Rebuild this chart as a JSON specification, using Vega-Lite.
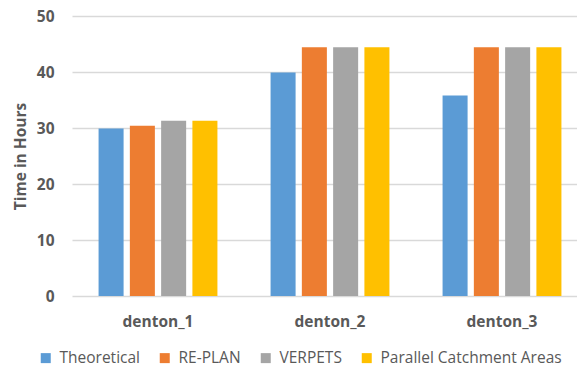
{
  "$schema": "https://vega.github.io/schema/vega-lite/v6.json",
  "autosize": "none",
  "width": 505,
  "height": 280,
  "padding": {"left": 72, "top": 16, "right": 0, "bottom": 72},
  "background": "white",
  "config": {
    "view": {"stroke": null},
    "font": "Open Sans",
    "axis": {"labelColor": "#595959", "titleColor": "#595959"}
  },
  "data": {
    "values": [
      {"dataset": "denton_1", "method": "Theoretical", "hours": 29.9},
      {"dataset": "denton_1", "method": "RE-PLAN", "hours": 30.4},
      {"dataset": "denton_1", "method": "VERPETS", "hours": 31.3},
      {"dataset": "denton_1", "method": "Parallel Catchment Areas", "hours": 31.3},
      {"dataset": "denton_2", "method": "Theoretical", "hours": 39.9},
      {"dataset": "denton_2", "method": "RE-PLAN", "hours": 44.4},
      {"dataset": "denton_2", "method": "VERPETS", "hours": 44.4},
      {"dataset": "denton_2", "method": "Parallel Catchment Areas", "hours": 44.4},
      {"dataset": "denton_3", "method": "Theoretical", "hours": 35.8},
      {"dataset": "denton_3", "method": "RE-PLAN", "hours": 44.4},
      {"dataset": "denton_3", "method": "VERPETS", "hours": 44.4},
      {"dataset": "denton_3", "method": "Parallel Catchment Areas", "hours": 44.4}
    ]
  },
  "mark": {"type": "bar"},
  "encoding": {
    "x": {
      "field": "dataset",
      "type": "nominal",
      "scale": {"range": [0, 516], "paddingInner": 0.309, "paddingOuter": 0.1545},
      "axis": {
        "title": null,
        "domain": false,
        "ticks": false,
        "labelAngle": 0,
        "labelFontSize": 15.5,
        "labelFontWeight": "bold",
        "labelPadding": 18
      }
    },
    "xOffset": {
      "field": "method",
      "type": "nominal",
      "sort": ["Theoretical", "RE-PLAN", "VERPETS", "Parallel Catchment Areas"],
      "scale": {"paddingInner": 0.2, "paddingOuter": 0}
    },
    "y": {
      "field": "hours",
      "type": "quantitative",
      "scale": {"domain": [0, 50], "nice": false},
      "axis": {
        "title": "Time in Hours",
        "titleFontSize": 15.5,
        "titleFontWeight": "bold",
        "titlePadding": 8,
        "values": [0, 10, 20, 30, 40, 50],
        "domain": false,
        "ticks": false,
        "labelFontSize": 15.5,
        "labelFontWeight": "bold",
        "labelPadding": 18,
        "gridColor": "#D9D9D9",
        "gridWidth": 1.3
      }
    },
    "color": {
      "field": "method",
      "type": "nominal",
      "sort": ["Theoretical", "RE-PLAN", "VERPETS", "Parallel Catchment Areas"],
      "scale": {
        "domain": ["Theoretical", "RE-PLAN", "VERPETS", "Parallel Catchment Areas"],
        "range": ["#5B9BD5", "#ED7D31", "#A5A5A5", "#FFC000"]
      },
      "legend": {
        "title": null,
        "orient": "none",
        "direction": "horizontal",
        "legendX": -34,
        "legendY": 334,
        "symbolType": "square",
        "symbolSize": 100,
        "symbolStrokeWidth": 0,
        "symbolOpacity": 1,
        "labelFontSize": 15.5,
        "labelColor": "#595959",
        "labelOffset": 6,
        "labelLimit": 400,
        "columnPadding": 17
      }
    }
  }
}
